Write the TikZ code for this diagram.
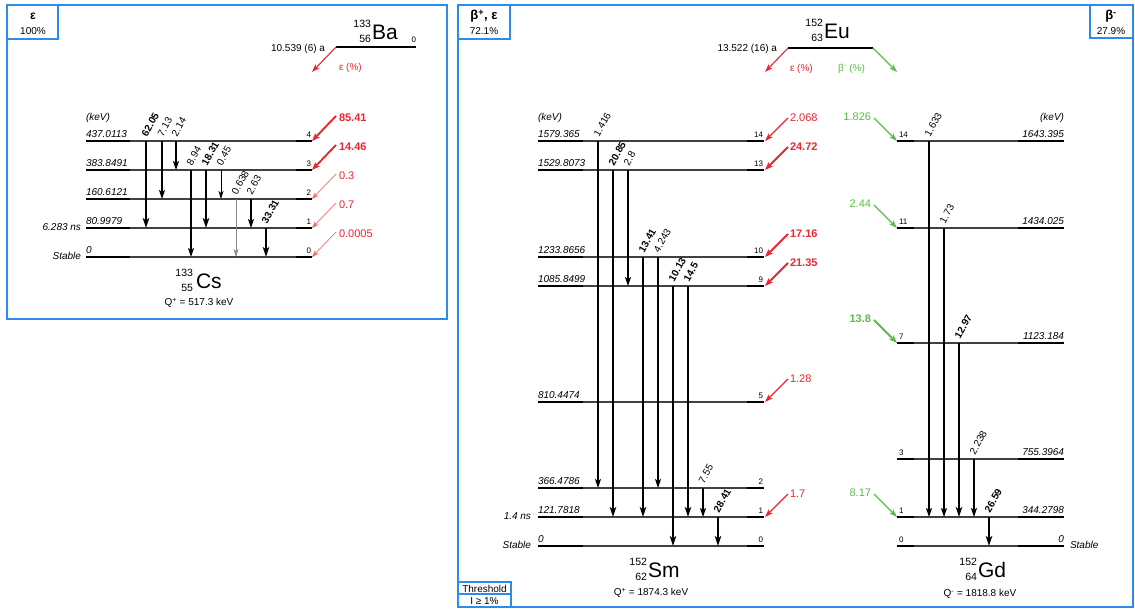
\documentclass[tikz,border=0pt]{standalone}
\usepackage{fontspec}
\setmainfont{Liberation Sans}
\usetikzlibrary{arrows.meta}
\definecolor{frameblue}{RGB}{45,140,235}
\definecolor{myred}{RGB}{230,40,50}
\definecolor{palered}{RGB}{240,110,115}
\definecolor{mygreen}{RGB}{90,190,70}
\begin{document}
\begin{tikzpicture}[x=1pt,y=-1pt,
 every node/.style={inner sep=0pt, outer sep=0pt},
 frame/.style={draw=frameblue, line width=1.4pt},
 lvlmid/.style={line width=1.3pt, black!75},
 lvlend/.style={line width=2.6pt, black},
 en/.style={font=\fontsize{10}{12}\selectfont\itshape},
 num/.style={font=\fontsize{8}{10}\selectfont},
 txt/.style={font=\fontsize{10}{12}\selectfont},
 big/.style={font=\fontsize{21}{24}\selectfont},
 azn/.style={font=\fontsize{10.5}{12}\selectfont},
 tthick/.style={line width=2pt, -{Stealth[length=10pt,width=6.5pt,inset=2.5pt]}},
 tnorm/.style={line width=1.1pt, -{Stealth[length=9pt,width=6pt,inset=2pt]}},
 tthin/.style={line width=0.7pt, -{Stealth[length=8pt,width=5pt,inset=2pt]}},
 tgray/.style={tthin, black!45},
 tlab/.style={rotate=60, anchor=base west, font=\fontsize{10}{12}\selectfont},
 tlabb/.style={rotate=60, anchor=base west, font=\fontsize{10}{12}\selectfont\bfseries},
 fthick/.style={line width=1.9pt, -{Stealth[length=8pt,width=6pt,inset=2pt]}},
 fnorm/.style={line width=1.1pt, -{Stealth[length=8pt,width=5.5pt,inset=2pt]}},
 fthin/.style={line width=0.7pt, -{Stealth[length=7pt,width=5pt,inset=2pt]}},
 flab/.style={font=\fontsize{11}{12}\selectfont},
 flabb/.style={font=\fontsize{11}{12}\selectfont\bfseries},
]
\useasboundingbox (0,0) rectangle (1135,610);
\fill[white] (0,0) rectangle (1135,610);

% ---------------- frames ----------------
\draw[frame] (7,5) rectangle (447,319);
\draw[frame] (7,5) rectangle (58,39);
\node[font=\fontsize{12}{14}\selectfont\bfseries] (mode1) at (33,16) {ε};
\node[txt] (mode1p) at (33,31) {100\%};

\draw[frame] (458,5) rectangle (1133,607);
\draw[frame] (458,5) rectangle (510,39);
\node[font=\fontsize{13}{14}\selectfont\bfseries] (mode2) at (484,16) {β\textsuperscript{+}, ε};
\node[txt] (mode2p) at (484,31) {72.1\%};
\draw[frame] (1090,5) rectangle (1133,38);
\node[font=\fontsize{13}{14}\selectfont\bfseries] (mode3) at (1111,16) {β\textsuperscript{-}};
\node[txt] (mode3p) at (1111,31) {27.9\%};
\draw[frame] (458,582) rectangle (511,607);
\draw[frame] (458,594) -- (511,594);
\node[txt] (thr) at (484.5,588.5) {Threshold};
\node[txt] (thrv) at (484.5,601) {I ≥ 1\%};

% ---------------- Ba -> Cs ----------------
\draw[lvlend] (336,47) -- (416,47);
\node[num, anchor=base east] (ba0) at (416,43) {0};
\node[big, anchor=base west] (ba) at (372,40) {Ba};
\node[azn, anchor=base east] (baA) at (371,28) {133};
\node[azn, anchor=base east] (baZ) at (371,43) {56};
\node[txt, anchor=east] (bahl) at (325,49) {10.539 (6) a};
\coordinate (bas) at (336,47);
\coordinate (bae) at (312,72);
\draw[fnorm, myred] (bas) -- (bae);
\node[txt, myred, anchor=west] (baeps) at (339,68) {ε (\%)};

\node[en, anchor=base west] (cskev) at (86,120) {(keV)};
\foreach \y/\e/\n in {141/437.0113/4, 170/383.8491/3, 199/160.6121/2, 228/80.9979/1, 257/0/0}{
  \draw[lvlmid] (86,\y) -- (312,\y);
  \draw[lvlend] (86,\y) -- (130,\y);
  \draw[lvlend] (296,\y) -- (312,\y);
  \node[en, anchor=base west] (cse\n) at (86,\y-4) {\e};
  \node[num, anchor=base east] (csn\n) at (311,\y-4) {\n};
}
\node[en, anchor=east] (csns) at (81,227) {6.283 ns};
\node[en, anchor=east] (csst) at (81,256) {Stable};

\foreach \x/\a/\b/\t/\s/\l in {146/141/228/62.05/tthick/tlabb, 162/141/199/7.13/tnorm/tlab, 176/141/170/2.14/tnorm/tlab,
  191/170/257/8.94/tnorm/tlab, 206/170/228/18.31/tthick/tlabb, 221/170/199/0.45/tthin/tlab,
  236/199/257/0.638/tgray/tlab, 251/199/228/2.63/tnorm/tlab, 266/228/257/33.31/tthick/tlabb}{
  \coordinate (cst\x) at (\x,\a);
  \coordinate (csb\x) at (\x,\b);
  \draw[\s] (cst\x) -- (csb\x);
  \node[\l] (csl\x) at (\x+1,\a-4) {\t};
}

\foreach \y/\t/\s/\c/\f in {141/85.41/fthick/myred/flabb, 170/14.46/fthick/myred/flabb, 199/0.3/fthin/palered/flab,
  228/0.7/fthin/palered/flab, 257/0.0005/fthin/palered/flab}{
  \coordinate (csfs\y) at (336,\y-25);
  \coordinate (csfe\y) at (312,\y);
  \draw[\s, \c] (csfs\y) -- (csfe\y);
  \node[\f, myred, anchor=west] (csfl\y) at (339,\y-23.5) {\t};
}

\node[big, anchor=base west] (cs) at (196,288) {Cs};
\node[azn, anchor=base east] (csA) at (193,276) {133};
\node[azn, anchor=base east] (csZ) at (193,291) {55};
\node[txt] (csq) at (199,303) {Q\textsuperscript{+} = 517.3 keV};

% ---------------- Eu parent ----------------
\draw[lvlend] (788,48) -- (873,48);
\node[big, anchor=base west] (eu) at (824,39) {Eu};
\node[azn, anchor=base east] (euA) at (823,27) {152};
\node[azn, anchor=base east] (euZ) at (823,42) {63};
\node[txt, anchor=east] (euhl) at (777,49) {13.522 (16) a};
\coordinate (eus1) at (788,48);
\coordinate (eue1) at (765,72);
\coordinate (eus2) at (873,48);
\coordinate (eue2) at (897,72);
\draw[fnorm, myred] (eus1) -- (eue1);
\draw[fnorm, mygreen] (eus2) -- (eue2);
\node[txt, myred, anchor=west] (eueps) at (790,69) {ε (\%)};
\node[txt, mygreen, anchor=west] (eubm) at (838,69) {β\textsuperscript{-} (\%)};

% ---------------- Sm ----------------
\node[en, anchor=base west] (smkev) at (538,120) {(keV)};
\foreach \y/\e/\n in {141/1579.365/14, 170/1529.8073/13, 257/1233.8656/10, 286/1085.8499/9, 402/810.4474/5, 488/366.4786/2, 517/121.7818/1, 546/0/0}{
  \draw[lvlmid] (538,\y) -- (764,\y);
  \draw[lvlend] (538,\y) -- (583,\y);
  \draw[lvlend] (747,\y) -- (764,\y);
  \node[en, anchor=base west] (sme\n) at (538,\y-4) {\e};
  \node[num, anchor=base east] (smn\n) at (763,\y-4) {\n};
}
\node[en, anchor=east] (smns) at (531,516) {1.4 ns};
\node[en, anchor=east] (smst) at (531,545) {Stable};

\foreach \x/\a/\b/\t/\s/\l in {598/141/488/1.416/tnorm/tlab, 613/170/517/20.85/tthick/tlabb, 628/170/286/2.8/tnorm/tlab,
  643/257/517/13.41/tthick/tlabb, 658/257/488/4.243/tnorm/tlab, 673/286/546/10.13/tthick/tlabb,
  688/286/517/14.5/tthick/tlabb, 703/488/517/7.55/tnorm/tlab, 718/517/546/28.41/tthick/tlabb}{
  \coordinate (smt\x) at (\x,\a);
  \coordinate (smb\x) at (\x,\b);
  \draw[\s] (smt\x) -- (smb\x);
  \node[\l] (sml\x) at (\x+1,\a-4) {\t};
}

\foreach \y/\t/\s/\f in {141/2.068/fnorm/flab, 170/24.72/fthick/flabb, 257/17.16/fthick/flabb,
  286/21.35/fthick/flabb, 402/1.28/fnorm/flab, 517/1.7/fnorm/flab}{
  \coordinate (smfs\y) at (788,\y-23);
  \coordinate (smfe\y) at (765,\y);
  \draw[\s, myred] (smfs\y) -- (smfe\y);
  \node[\f, myred, anchor=west] (smfl\y) at (790,\y-23.5) {\t};
}

\node[big, anchor=base west] (sm) at (648,577) {Sm};
\node[azn, anchor=base east] (smA) at (647,565) {152};
\node[azn, anchor=base east] (smZ) at (647,580) {62};
\node[txt] (smq) at (651,593) {Q\textsuperscript{+} = 1874.3 keV};

% ---------------- Gd ----------------
\node[en, anchor=base east] (gdkev) at (1064,120) {(keV)};
\foreach \y/\e/\n in {141/1643.395/14, 228/1434.025/11, 343/1123.184/7, 459/755.3964/3, 517/344.2798/1, 546/0/0}{
  \draw[lvlmid] (897,\y) -- (1064,\y);
  \draw[lvlend] (897,\y) -- (914,\y);
  \draw[lvlend] (1018,\y) -- (1064,\y);
  \node[en, anchor=base east] (gde\n) at (1064,\y-4) {\e};
  \node[num, anchor=base west] (gdn\n) at (899,\y-4) {\n};
}
\node[en, anchor=west] (gdst) at (1070,545) {Stable};

\foreach \x/\a/\b/\t/\s/\l in {929/141/517/1.633/tnorm/tlab, 944/228/517/1.73/tnorm/tlab, 959/343/517/12.97/tthick/tlabb,
  974/459/517/2.238/tnorm/tlab, 989/517/546/26.59/tthick/tlabb}{
  \coordinate (gdt\x) at (\x,\a);
  \coordinate (gdb\x) at (\x,\b);
  \draw[\s] (gdt\x) -- (gdb\x);
  \node[\l] (gdl\x) at (\x+1,\a-4) {\t};
}

\foreach \y/\t/\s/\f in {141/1.826/fnorm/flab, 228/2.44/fnorm/flab, 343/13.8/fthick/flabb, 517/8.17/fnorm/flab}{
  \coordinate (gdfs\y) at (874,\y-23);
  \coordinate (gdfe\y) at (897,\y);
  \draw[\s, mygreen] (gdfs\y) -- (gdfe\y);
  \node[\f, mygreen, anchor=east] (gdfl\y) at (871,\y-24) {\t};
}

\node[big, anchor=base west] (gd) at (978,577) {Gd};
\node[azn, anchor=base east] (gdA) at (977,565) {152};
\node[azn, anchor=base east] (gdZ) at (977,580) {64};
\node[txt] (gdq) at (980,594) {Q\textsuperscript{-} = 1818.8 keV};
\end{tikzpicture}
\end{document}
